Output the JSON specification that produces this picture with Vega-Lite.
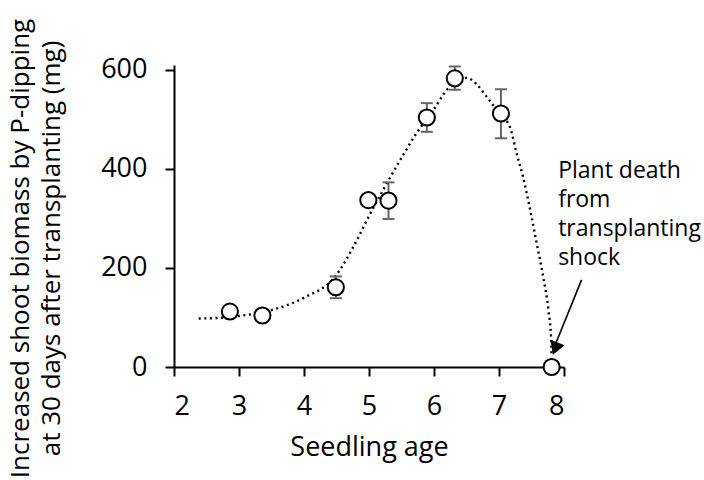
{
  "$schema": "https://vega.github.io/schema/vega-lite/v6.json",
  "width": 390,
  "height": 302,
  "autosize": {"type": "none"},
  "padding": {"left": 174, "top": 65, "right": 140, "bottom": 113},
  "background": "white",
  "config": {
    "aria": false,
    "mark": {"aria": false, "tooltip": false},
    "view": {"stroke": null},
    "font": "Open Sans",
    "style": {"guide-title": {"lineBreak": "\n"}},
    "axis": {"grid": false, "domainColor": "black", "tickColor": "black", "domainWidth": 2, "tickWidth": 2, "tickSize": 9, "labelFontSize": 27, "titleFontSize": 27, "labelColor": "black", "titleColor": "black", "titleFontWeight": "normal", "labelFont": "Open Sans", "titleFont": "Open Sans"}
  },
  "datasets": {
    "curve": [
      {"age": 2.38, "val": 98}, {"age": 2.8, "val": 100}, {"age": 3.0, "val": 103}, {"age": 3.5, "val": 115},
      {"age": 4.0, "val": 140}, {"age": 4.5, "val": 186}, {"age": 4.76, "val": 243}, {"age": 5.02, "val": 310},
      {"age": 5.22, "val": 358}, {"age": 5.48, "val": 418}, {"age": 5.73, "val": 472}, {"age": 5.99, "val": 519},
      {"age": 6.2, "val": 560}, {"age": 6.35, "val": 578}, {"age": 6.5, "val": 584}, {"age": 6.65, "val": 572},
      {"age": 6.81, "val": 546}, {"age": 7.0, "val": 513}, {"age": 7.17, "val": 484}, {"age": 7.27, "val": 432},
      {"age": 7.37, "val": 384}, {"age": 7.48, "val": 317}, {"age": 7.58, "val": 250}, {"age": 7.68, "val": 182},
      {"age": 7.76, "val": 115}, {"age": 7.8, "val": 60}, {"age": 7.81, "val": 20}
    ],
    "pts": [
      {"age": 2.86, "val": 112},
      {"age": 3.36, "val": 104},
      {"age": 4.49, "val": 161, "lo": 139, "hi": 183},
      {"age": 4.99, "val": 337},
      {"age": 5.3, "val": 336, "lo": 299, "hi": 373},
      {"age": 5.89, "val": 504, "lo": 475, "hi": 533},
      {"age": 6.32, "val": 583, "lo": 560, "hi": 607},
      {"age": 7.03, "val": 512, "lo": 462, "hi": 561},
      {"age": 7.81, "val": 0}
    ],
    "arrow": [{"x1": 8.27, "y1": 176, "x2": 7.85, "y2": 40, "tx": 7.865, "ty": 37}],
    "label": [{"tx": 7.91, "ty": 382, "text": "Plant death\nfrom\ntransplanting\nshock"}]
  },
  "encoding": {},
  "layer": [
    {
      "data": {"name": "curve"},
      "mark": {"type": "line", "color": "black", "strokeWidth": 2.4, "strokeDash": [2, 3.6], "interpolate": "monotone", "clip": false, "aria": false},
      "encoding": {
        "x": {"field": "age", "type": "quantitative", "title": "Seedling age", "scale": {"domain": [2, 8], "nice": false, "zero": false},
          "axis": {"values": [2, 3, 4, 5, 6, 7, 8], "format": "d", "labelPadding": 17, "titlePadding": 15}},
        "y": {"field": "val", "type": "quantitative", "title": "Increased shoot biomass by P-dipping\nat 30 days after transplanting (mg)", "scale": {"domain": [0, 610], "nice": false},
          "axis": {"values": [0, 200, 400, 600], "labelPadding": 18,
            "titleFontSize": 26,
            "titleAngle": -90, "titleAlign": "center", "titleBaseline": "alphabetic", "titleX": -146, "titleY": 183, "titleLineHeight": 31}}
      }
    },
    {
      "data": {"name": "pts"},
      "transform": [{"filter": "isValid(datum.lo)"}],
      "mark": {"type": "rule", "color": "#666666", "strokeWidth": 2, "aria": false},
      "encoding": {
        "x": {"field": "age", "type": "quantitative", "title": "Seedling age"},
        "y": {"field": "lo", "type": "quantitative", "title": "Increased shoot biomass by P-dipping\nat 30 days after transplanting (mg)"},
        "y2": {"field": "hi"}
      }
    },
    {
      "data": {"name": "pts"},
      "transform": [{"filter": "isValid(datum.lo)"}],
      "mark": {"type": "tick", "orient": "horizontal", "color": "#666666", "size": 12, "thickness": 2, "opacity": 1, "aria": false},
      "encoding": {
        "x": {"field": "age", "type": "quantitative", "title": "Seedling age"},
        "y": {"field": "lo", "type": "quantitative", "title": "Increased shoot biomass by P-dipping\nat 30 days after transplanting (mg)"}
      }
    },
    {
      "data": {"name": "pts"},
      "transform": [{"filter": "isValid(datum.hi)"}],
      "mark": {"type": "tick", "orient": "horizontal", "color": "#666666", "size": 12, "thickness": 2, "opacity": 1, "aria": false},
      "encoding": {
        "x": {"field": "age", "type": "quantitative", "title": "Seedling age"},
        "y": {"field": "hi", "type": "quantitative", "title": "Increased shoot biomass by P-dipping\nat 30 days after transplanting (mg)"}
      }
    },
    {
      "data": {"name": "pts"},
      "mark": {"type": "point", "shape": "circle", "filled": true, "fill": "white", "stroke": "black", "strokeWidth": 2, "size": 260, "opacity": 1, "clip": false, "aria": false},
      "encoding": {
        "x": {"field": "age", "type": "quantitative", "title": "Seedling age"},
        "y": {"field": "val", "type": "quantitative", "title": "Increased shoot biomass by P-dipping\nat 30 days after transplanting (mg)"}
      }
    },
    {
      "data": {"name": "arrow"},
      "mark": {"type": "rule", "color": "black", "strokeWidth": 1.6, "clip": false, "aria": false},
      "encoding": {
        "x": {"field": "x1", "type": "quantitative", "title": "Seedling age"},
        "y": {"field": "y1", "type": "quantitative", "title": "Increased shoot biomass by P-dipping\nat 30 days after transplanting (mg)"},
        "x2": {"field": "x2"},
        "y2": {"field": "y2"}
      }
    },
    {
      "data": {"name": "arrow"},
      "mark": {"type": "point", "shape": "triangle-up", "filled": true, "color": "black", "size": 230, "angle": 201, "opacity": 1, "clip": false, "aria": false},
      "encoding": {
        "x": {"field": "tx", "type": "quantitative", "title": "Seedling age"},
        "y": {"field": "ty", "type": "quantitative", "title": "Increased shoot biomass by P-dipping\nat 30 days after transplanting (mg)"}
      }
    },
    {
      "data": {"name": "label"},
      "mark": {"type": "text", "align": "left", "baseline": "alphabetic", "fontSize": 23, "lineBreak": "\n", "lineHeight": 29, "color": "black", "font": "Open Sans", "clip": false, "aria": false},
      "encoding": {
        "x": {"field": "tx", "type": "quantitative", "title": "Seedling age"},
        "y": {"field": "ty", "type": "quantitative", "title": "Increased shoot biomass by P-dipping\nat 30 days after transplanting (mg)"},
        "text": {"field": "text"}
      }
    }
  ]
}
